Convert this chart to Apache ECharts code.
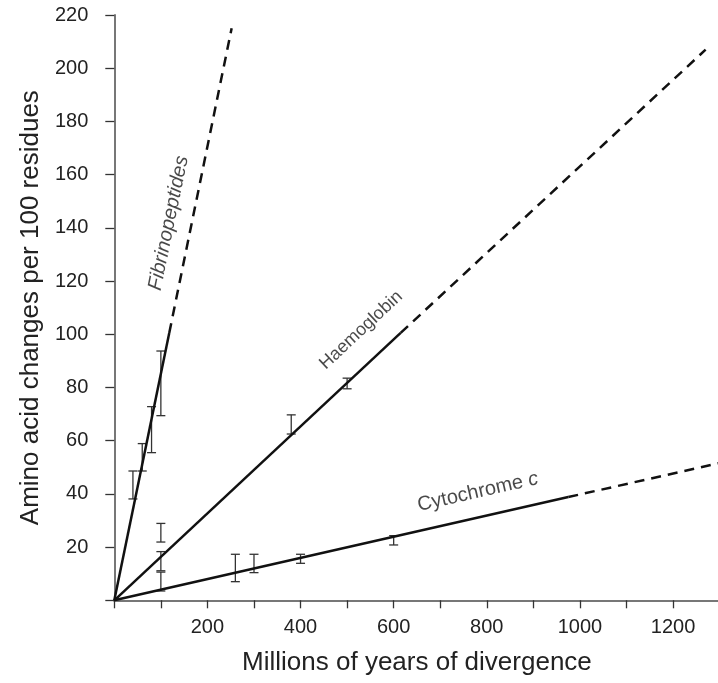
<!DOCTYPE html>
<html><head><meta charset="utf-8">
<script src="https://cdn.jsdelivr.net/npm/echarts@6/dist/echarts.min.js"></script>
<style>html,body{margin:0;padding:0;background:#fff}#c{width:718px;height:683px}</style>
</head><body><div id="c"></div>
<script>
// Tick labels
const xTickLabels = ['200', '400', '600', '800', '1000', '1200'];
const yTickLabels = ['20', '40', '60', '80', '100', '120', '140', '160', '180', '200', '220'];

// Regression lines: [millions of years, changes per 100 residues]
const fibSolid = [[0, 0], [118, 100.5]];
const fibDashed = [[118, 100.5], [252, 215]];
const haemSolid = [[0, 0], [615, 100.5]];
const haemDashed = [[615, 100.5], [1270, 207]];
const cytoSolid = [[0, 0], [975, 38.8]];
const cytoDashed = [[975, 38.8], [1300, 51.6]];

// Error bars: [x, low, high]
const fibBars = [[40, 38.1, 48.6], [60, 48.6, 58.9], [80, 55.5, 72.8], [100, 69.4, 93.7]];
const haemBars = [[100, 21.9, 28.9], [100, 11.1, 18.3], [380, 62.5, 69.7], [500, 79.5, 83.5]];
const cytoBars = [[100, 3.5, 10.6], [260, 7.0, 17.3], [300, 10.4, 17.3], [400, 13.9, 17.3], [600, 20.8, 24.3]];

// Annotation anchor points (label centres, data units)
const fibLabel = [[117, 141.8]];
const haemLabel = [[530, 101.5]];
const cytoLabel = [[781, 40.7]];

const FONT = 'Liberation Sans, Arial, sans-serif';

function errRender(params, api) {
  const x = api.value(0), lo = api.value(1), hi = api.value(2);
  const a = api.coord([x, lo]), b = api.coord([x, hi]);
  const w = 4.5;
  const style = { stroke: '#333', lineWidth: 1.3, fill: null };
  return {
    type: 'group', children: [
      { type: 'line', shape: { x1: a[0], y1: a[1], x2: b[0], y2: b[1] }, style },
      { type: 'line', shape: { x1: a[0] - w, y1: a[1], x2: a[0] + w, y2: a[1] }, style },
      { type: 'line', shape: { x1: b[0] - w, y1: b[1], x2: b[0] + w, y2: b[1] }, style }
    ]
  };
}

function lineSeries(data, dashed) {
  return {
    type: 'line', data, showSymbol: false, symbol: 'none', silent: true,
    lineStyle: { color: '#111', width: 2.5, type: dashed ? [10, 7] : 'solid' },
    z: 3
  };
}

function barSeries(data) {
  return { type: 'custom', data, renderItem: errRender, encode: { x: 0, y: [1, 2] }, z: 2, silent: true };
}

function labelSeries(data, text, rotate, size, rich) {
  return {
    type: 'scatter', data, symbolSize: 1, itemStyle: { color: 'transparent' }, silent: true,
    label: {
      show: true, position: 'inside', rotate, formatter: text,
      fontSize: size, color: '#1a1a1a', fontFamily: FONT, align: 'center', verticalAlign: 'middle',
      rich: rich || {}
    },
    z: 4
  };
}

const chart = echarts.init(document.getElementById('c'), null, { renderer: 'canvas' });
chart.setOption({
  animation: false,
  backgroundColor: '#fff',
  grid: { left: 114.3, top: 15, width: 605.3, height: 585.3, containLabel: false, outerBoundsMode: 'none' },
  xAxis: {
    type: 'value', min: 0, max: 1300, interval: 100,
    name: 'Millions of years of divergence', nameLocation: 'middle', nameGap: 50,
    nameTextStyle: { fontSize: 26, color: '#222', fontFamily: FONT },
    axisLine: { show: true, onZero: false, lineStyle: { color: '#777', width: 2 } },
    axisTick: { show: true, length: 8, lineStyle: { color: '#333', width: 1.3 } },
    axisLabel: {
      fontSize: 20, color: '#222', fontFamily: FONT, margin: 17,
      formatter: v => xTickLabels.includes(String(v)) ? String(v) : ''
    },
    splitLine: { show: false }
  },
  yAxis: {
    type: 'value', min: 0, max: 220, interval: 20,
    name: 'Amino acid changes per 100 residues', nameLocation: 'middle', nameGap: 68,
    nameTextStyle: { fontSize: 26, color: '#222', fontFamily: FONT },
    axisLine: { show: true, onZero: false, lineStyle: { color: '#777', width: 2 } },
    axisTick: { show: true, length: 9, lineStyle: { color: '#333', width: 1.3 } },
    axisLabel: {
      fontSize: 20, color: '#222', fontFamily: FONT, margin: 26,
      formatter: v => yTickLabels.includes(String(v)) ? String(v) : ''
    },
    splitLine: { show: false }
  },
  series: [
    lineSeries(fibSolid, false), lineSeries(fibDashed, true),
    lineSeries(haemSolid, false), lineSeries(haemDashed, true),
    lineSeries(cytoSolid, false), lineSeries(cytoDashed, true),
    barSeries(fibBars), barSeries(haemBars), barSeries(cytoBars),
    labelSeries(fibLabel, '{i|Fibrinopeptides}', 78.4, 20, { i: { fontStyle: 'italic', fontSize: 20, fontFamily: FONT, color: '#1a1a1a' } }),
    labelSeries(haemLabel, 'Haemoglobin', 43, 18),
    labelSeries(cytoLabel, '{n|Cytochrome }{i|c}', 12.8, 20, {
      n: { fontSize: 20, fontFamily: FONT, color: '#1a1a1a' },
      i: { fontSize: 20, fontFamily: FONT, color: '#1a1a1a', fontStyle: 'italic' }
    })
  ]
});
</script></body></html>
